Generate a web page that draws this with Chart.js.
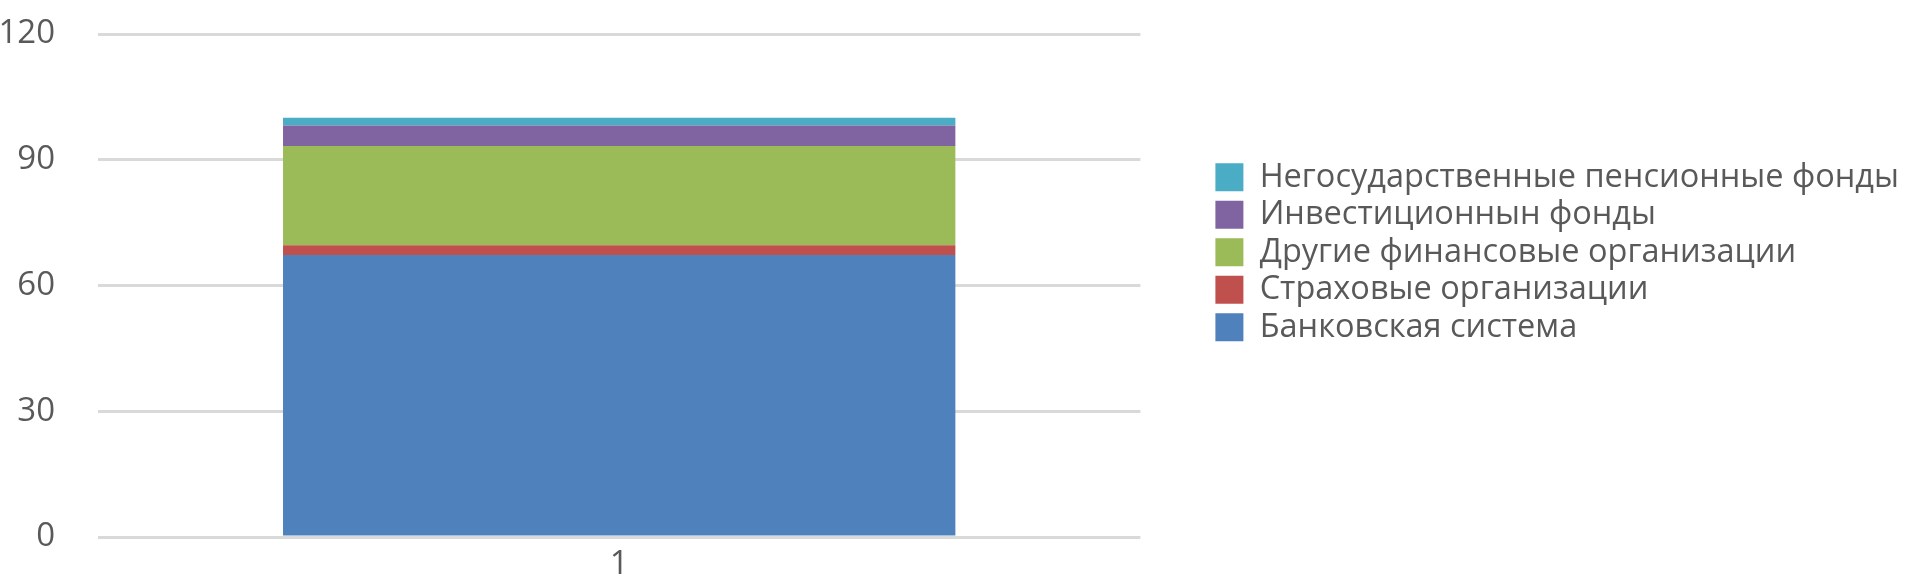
<!DOCTYPE html>
<html>
<head>
<meta charset="utf-8">
<script src="https://cdn.jsdelivr.net/npm/chart.js@4/dist/chart.umd.min.js"></script>
<style>
  html, body { margin: 0; padding: 0; background: #fff; }
</style>
</head>
<body>
<canvas id="mygraph" width="1920" height="584"></canvas>
<script>
let categories = ["1"];
let seriesNames = [
  "Банковская система",
  "Страховые организации",
  "Другие финансовые организации",
  "Инвестиционнын фонды",
  "Негосударственные пенсионные фонды"
];
let banks = [67.3];
let insurance = [2.3];
let otherFin = [23.7];
let investFunds = [4.9];
let pensionFunds = [1.8];
let yTicks = [0, 30, 60, 90, 120];

let colors = ["#4F81BD", "#C0504D", "#9BBB59", "#8064A2", "#4BACC6"];
let series = [banks, insurance, otherFin, investFunds, pensionFunds];

Chart.defaults.font.family = "'Open Sans', sans-serif";
Chart.defaults.color = "#595959";

var ctx = document.getElementById("mygraph");

var mygraph = new Chart(ctx, {
  type: 'bar',
  data: {
    labels: categories,
    datasets: series.map(function (vals, i) {
      return {
        label: seriesNames[i],
        data: vals,
        backgroundColor: colors[i],
        borderWidth: 0,
        categoryPercentage: 1,
        barPercentage: 0.645
      };
    })
  },
  options: {
    responsive: false,
    animation: false,
    devicePixelRatio: 1,
    layout: { padding: { top: 34, right: 11, bottom: 0, left: 0 } },
    scales: {
      x: {
        stacked: true,
        afterFit: function (s) { s.height = 47; },
        grid: { display: false, drawTicks: false },
        border: { display: false },
        ticks: { font: { size: 33 }, padding: 8, maxRotation: 0 }
      },
      y: {
        stacked: true,
        min: 0,
        max: 120,
        afterBuildTicks: function (s) {
          s.ticks = yTicks.map(function (v) { return { value: v }; });
        },
        afterFit: function (s) { s.width = 98; },
        // invisible tick marks give the gap between labels and gridlines
        grid: { color: "#d9d9d9", lineWidth: 3, drawTicks: true, tickLength: 43, tickWidth: 0, tickColor: "rgba(0,0,0,0)" },
        border: { display: false },
        ticks: { font: { size: 33 }, padding: 0 }
      },
      // empty axis, only keeps space between plot and legend
      gap: {
        position: 'right',
        display: true,
        grid: { display: false, drawTicks: false },
        border: { display: false },
        ticks: { display: false },
        afterFit: function (s) { s.width = 70; }
      }
    },
    plugins: {
      tooltip: { enabled: false },
      legend: {
        position: 'right',
        align: 'start',
        reverse: true,
        maxWidth: 900,
        title: { display: true, text: '', padding: 0, font: { size: 122, lineHeight: 1 } },
        labels: {
          boxWidth: 28,
          boxHeight: 28,
          padding: 5,
          color: "#595959",
          font: { size: 32.5 }
        }
      }
    }
  }
});
</script>
</body>
</html>
